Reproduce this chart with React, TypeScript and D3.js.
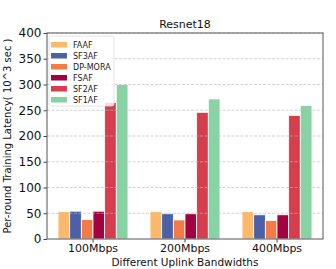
import React, { useEffect, useRef } from 'react';
import * as d3 from 'd3';

const bandwidths = ['100Mbps', '200Mbps', '400Mbps'];
const methods = ['FAAF', 'SF3AF', 'DP-MORA', 'FSAF', 'SF2AF', 'SF1AF'];
const colors = ['#fdb96b', '#4c60a8', '#f47a48', '#a10340', '#d63e4e', '#87d3a4'];

// latency (10^3 sec) per method, one entry per bandwidth
const faaf = [53, 53, 53];
const sf3af = [54, 49, 47];
const dpMora = [38, 37, 36];
const fsaf = [54, 49, 47];
const sf2af = [265, 246, 240];
const sf1af = [300, 272, 259];
const seriesValues = [faaf, sf3af, dpMora, fsaf, sf2af, sf1af];

const yTicks = [0, 50, 100, 150, 200, 250, 300, 350, 400];

const App: React.FC = () => {
  const svgRef = useRef<SVGSVGElement>(null);

  useEffect(() => {
    if (!svgRef.current) return;
    const svg = d3.select(svgRef.current);
    svg.selectAll('*').remove();

    const left = 47, right = 323, top = 33, bottom = 239;
    const font = 'DejaVu Sans, sans-serif';

    const x0 = d3.scaleBand()
      .domain(bandwidths)
      .range([left, right])
      .paddingInner(0.24)
      .paddingOuter(0.12);

    const x1 = d3.scaleBand()
      .domain(methods)
      .range([0, x0.bandwidth()]);

    const y = d3.scaleLinear().domain([0, 400]).range([bottom, top]);
    const color = d3.scaleOrdinal<string>().domain(methods).range(colors);

    // bars
    methods.forEach((m, i) => {
      svg.append('g')
        .selectAll('rect')
        .data(seriesValues[i].map((v, j) => ({ cat: bandwidths[j], v })))
        .join('rect')
        .attr('x', d => (x0(d.cat) || 0) + (x1(m) || 0))
        .attr('y', d => y(d.v))
        .attr('width', x1.bandwidth())
        .attr('height', d => bottom - y(d.v))
        .attr('fill', color(m))
        .attr('stroke', '#fff')
        .attr('stroke-width', 0.8);
    });

    // grid
    svg.append('g')
      .selectAll('line')
      .data(yTicks.slice(1))
      .join('line')
      .attr('x1', left)
      .attr('x2', right)
      .attr('y1', d => y(d))
      .attr('y2', d => y(d))
      .attr('stroke', '#bbb')
      .attr('stroke-opacity', 0.8)
      .attr('stroke-width', 0.8)
      .attr('stroke-dasharray', '3,1.5');

    // axes
    const yAxis = svg.append('g')
      .attr('transform', `translate(${left},0)`)
      .call(d3.axisLeft(y).tickValues(yTicks).tickSize(3.5).tickPadding(2));
    yAxis.select('.domain').remove();
    yAxis.selectAll('text').attr('font-size', 12).attr('font-family', font).attr('fill', '#111');
    yAxis.selectAll('line').attr('stroke', '#444');

    const xAxis = svg.append('g')
      .attr('transform', `translate(0,${bottom})`)
      .call(d3.axisBottom(x0).tickSize(3.5).tickPadding(2));
    xAxis.select('.domain').remove();
    xAxis.selectAll('text').attr('font-size', 11).attr('font-family', font).attr('fill', '#111');
    xAxis.selectAll('line').attr('stroke', '#444');

    // frame
    svg.append('rect')
      .attr('x', left)
      .attr('y', top)
      .attr('width', right - left)
      .attr('height', bottom - top)
      .attr('fill', 'none')
      .attr('stroke', '#555')
      .attr('stroke-width', 1);

    // legend
    const legend = svg.append('g').attr('transform', `translate(${left + 2},${top + 3})`);
    legend.append('rect')
      .attr('width', 65)
      .attr('height', 70)
      .attr('rx', 2)
      .attr('fill', '#fff')
      .attr('fill-opacity', 0.8)
      .attr('stroke', '#ddd')
      .attr('stroke-width', 0.8);
    methods.forEach((m, i) => {
      const item = legend.append('g').attr('transform', `translate(2,${6 + i * 11})`);
      item.append('rect')
        .attr('width', 16)
        .attr('height', 5.5)
        .attr('fill', color(m));
      item.append('text')
        .attr('x', 22)
        .attr('y', 5.5)
        .attr('font-size', 8)
        .attr('font-family', font)
        .attr('fill', '#222')
        .text(m);
    });

    // title and labels
    svg.append('text')
      .attr('x', (left + right) / 2)
      .attr('y', 28)
      .attr('text-anchor', 'middle')
      .attr('font-size', 11)
      .attr('font-family', font)
      .attr('fill', '#111')
      .text('Resnet18');

    svg.append('text')
      .attr('x', (left + right) / 2)
      .attr('y', 266)
      .attr('text-anchor', 'middle')
      .attr('font-size', 10.5)
      .attr('font-family', font)
      .attr('fill', '#111')
      .text('Different Uplink Bandwidths');

    svg.append('text')
      .attr('transform', `translate(11,${(top + bottom) / 2}) rotate(-90)`)
      .attr('text-anchor', 'middle')
      .attr('font-size', 10)
      .attr('font-family', font)
      .attr('fill', '#111')
      .text('Per-round Training Latency( 10^3 sec )');
  }, []);

  return (
    <svg
      ref={svgRef}
      width={336}
      height={269}
      style={{ position: 'absolute', left: 0, top: 0, background: '#fff' }}
    />
  );
};

export default App;
